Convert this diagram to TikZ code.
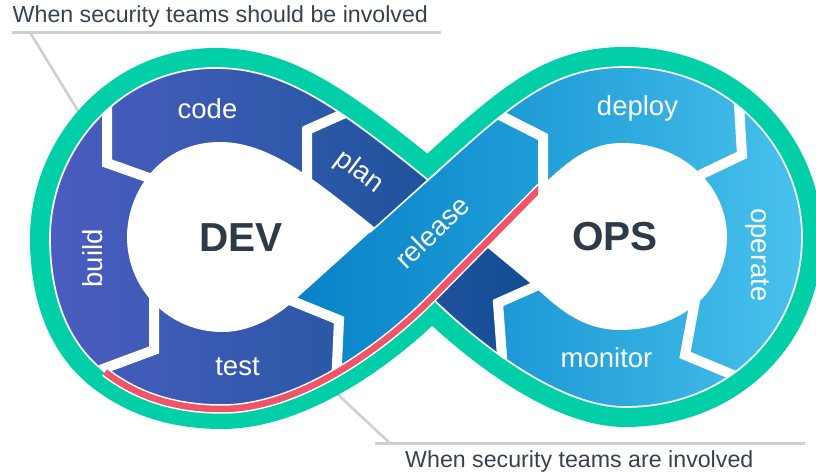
\documentclass[tikz,border=0pt]{standalone}
\usepackage{fontspec}
\setmainfont{Liberation Sans}
\definecolor{loopgreen}{HTML}{00CFA8}
\definecolor{alertred}{HTML}{EF5469}
\definecolor{devleft}{HTML}{4C5DC1}
\definecolor{devright}{HTML}{20569E}
\definecolor{opsleft}{HTML}{128FD0}
\definecolor{opsright}{HTML}{4AC3ED}
\definecolor{relleft}{HTML}{0882C7}
\definecolor{relright}{HTML}{1F9DD8}
\definecolor{planleft}{HTML}{2D58A7}
\definecolor{planright}{HTML}{0F4B91}
\definecolor{inktext}{HTML}{37424E}
\definecolor{inkbold}{HTML}{2D3A47}
\definecolor{rulegrey}{HTML}{CDD0D3}

% outer edge of the infinity band (figure-eight outline)
\def\loopoutline{(428,180) .. controls (330,100) and (280,68) .. (215,68)
  .. controls (120,68) and (50,150) .. (50,238)
  .. controls (50,300) and (70,345) .. (105,372)
  .. controls (140,399) and (180,409) .. (222,409)
  .. controls (300,409) and (385,346) .. (432,298)
  .. controls (480,345) and (560,407) .. (625,407)
  .. controls (730,407) and (802,330) .. (802,237)
  .. controls (802,150) and (730,67) .. (625,67)
  .. controls (550,67) and (510,106) .. (428,180) -- cycle}
% inner holes of the two loops
\def\devhole{(375,227.7) .. controls (315,180) and (270,142) .. (220,142)
  .. controls (160,142) and (127,192) .. (127,237)
  .. controls (127,290) and (170,332) .. (222,332)
  .. controls (255,332) and (282,312) .. (296,298.8) -- cycle}
\def\opshole{(484.2,244.9) -- (548,180)
  .. controls (572,158) and (592,143) .. (622,143)
  .. controls (685,143) and (727,188) .. (727,237)
  .. controls (727,292) and (680,330) .. (620,330)
  .. controls (588,330) and (565,314) .. (545,296) -- (535,287) -- cycle}

\begin{document}
\begin{tikzpicture}[x=1pt,y=-1pt,
  gap/.style={white, line width=10pt, line join=miter},
  stage/.style={text=white, font=\fontsize{27.5}{30}\selectfont, inner sep=0pt},
  hub/.style={text=inkbold, font=\bfseries\fontsize{40.5}{44}\selectfont, inner sep=0pt},
  caption/.style={text=inktext, font=\fontsize{23.2}{26}\selectfont, inner sep=0pt},
  rule/.style={rulegrey, line width=2.6pt}]
\useasboundingbox (0,0) rectangle (816,473);

% captions with their rules and leaders
\node[caption, anchor=base west] (shouldcap) at (12.5,22.7) {When security teams should be involved};
\node[caption, anchor=base west] (arecap) at (405,467.3) {When security teams are involved};
\coordinate (toprule-a) at (12,32.3);
\coordinate (toprule-b) at (441,32.3);
\coordinate (toplead-a) at (30,32.3);
\coordinate (toplead-b) at (86,124);
\coordinate (botrule-a) at (375,443.3);
\coordinate (botrule-b) at (805,443.3);
\coordinate (botlead-a) at (390,443.3);
\coordinate (botlead-b) at (316,374);
\draw[rule] (toprule-a) -- (toprule-b);
\draw[rule] (toplead-a) -- (toplead-b);
\draw[rule] (botrule-a) -- (botrule-b);
\draw[rule] (botlead-a) -- (botlead-b);

% green rim
\draw[loopgreen, line width=40pt, line join=round] \loopoutline;

\begin{scope}
  \clip \loopoutline;
  % loop bodies
  \shade[left color=devleft, right color=devright] (40,40) rectangle (430,440);
  \shade[left color=opsleft, right color=opsright] (430,40) rectangle (816,440);
  % plan ribbon, passing under release
  \shade[left color=planleft, right color=planright]
    (397,90) -- (307,130) -- (307,240) -- (400,300) -- (470,430) -- (507.5,430)
    -- (503,370) -- (498,303) -- (560,275.3) -- (480,200) -- (440,140) -- cycle;
  % release ribbon
  \shade[left color=relleft, right color=relright]
    (293.1,301.3) -- (339,320) -- (336,380) -- (334,430) -- (425,430) -- (432,298)
    -- (545,183) -- (543,137) -- (500,115.2) -- cycle;
  % holes
  \fill[white] \devhole;
  \fill[white] \opshole;
  % separators between stages
  \draw[gap] (107,95) -- (107,163) -- (155,180);
  \draw[gap] (154,275) -- (154,350) -- (92,373);
  \draw[gap] (280,296) -- (339,320) -- (336,385);
  \draw[gap] (365,104.2) -- (307,130) -- (307,190);
  \draw[gap] (480,105.1) -- (543,137) -- (543,200);
  \draw[gap] (738,88) -- (742,155) -- (700,175);
  \draw[gap] (697,290) -- (685,355) -- (745,380);
  \draw[gap] (550,279.8) -- (498,303) -- (503,370);
  % edge of release over plan
  \draw[white, line width=1.6pt] (370,232.2) -- (440,169.2);
\end{scope}

% thin white edge inside the rim
\draw[white, line width=1.7pt] \loopoutline;

% red security line
\begin{scope}
  \clip (0,0) rectangle (538,473);
  \draw[white, line width=9.5pt] (105,372) .. controls (140,399) and (180,409) .. (222,409)
    .. controls (300,409) and (385,346) .. (432,298) -- (548,180);
  \draw[alertred, line width=6.5pt] (105,372) .. controls (140,399) and (180,409) .. (222,409)
    .. controls (300,409) and (385,346) .. (432,298) -- (548,180);
\end{scope}

% stage labels
\node[stage, anchor=base] (code) at (207.5,119) {code};
\node[stage, anchor=base, rotate=90] (build) at (102,258.5) {build};
\node[stage, anchor=base] (test) at (237.5,375) {test};
\node[stage, rotate=-37] (plan) at (359,172) {plan};
\node[stage, rotate=44] (release) at (432,232) {release};
\node[stage, anchor=base] (deploy) at (637.5,116) {deploy};
\node[stage, anchor=base, rotate=-90] (operate) at (751,255) {operate};
\node[stage, anchor=base] (monitor) at (606.5,367) {monitor};

% loop titles
\node[hub] (dev) at (241,238) {DEV};
\node[hub] (ops) at (615,237) {OPS};
\end{tikzpicture}
\end{document}
